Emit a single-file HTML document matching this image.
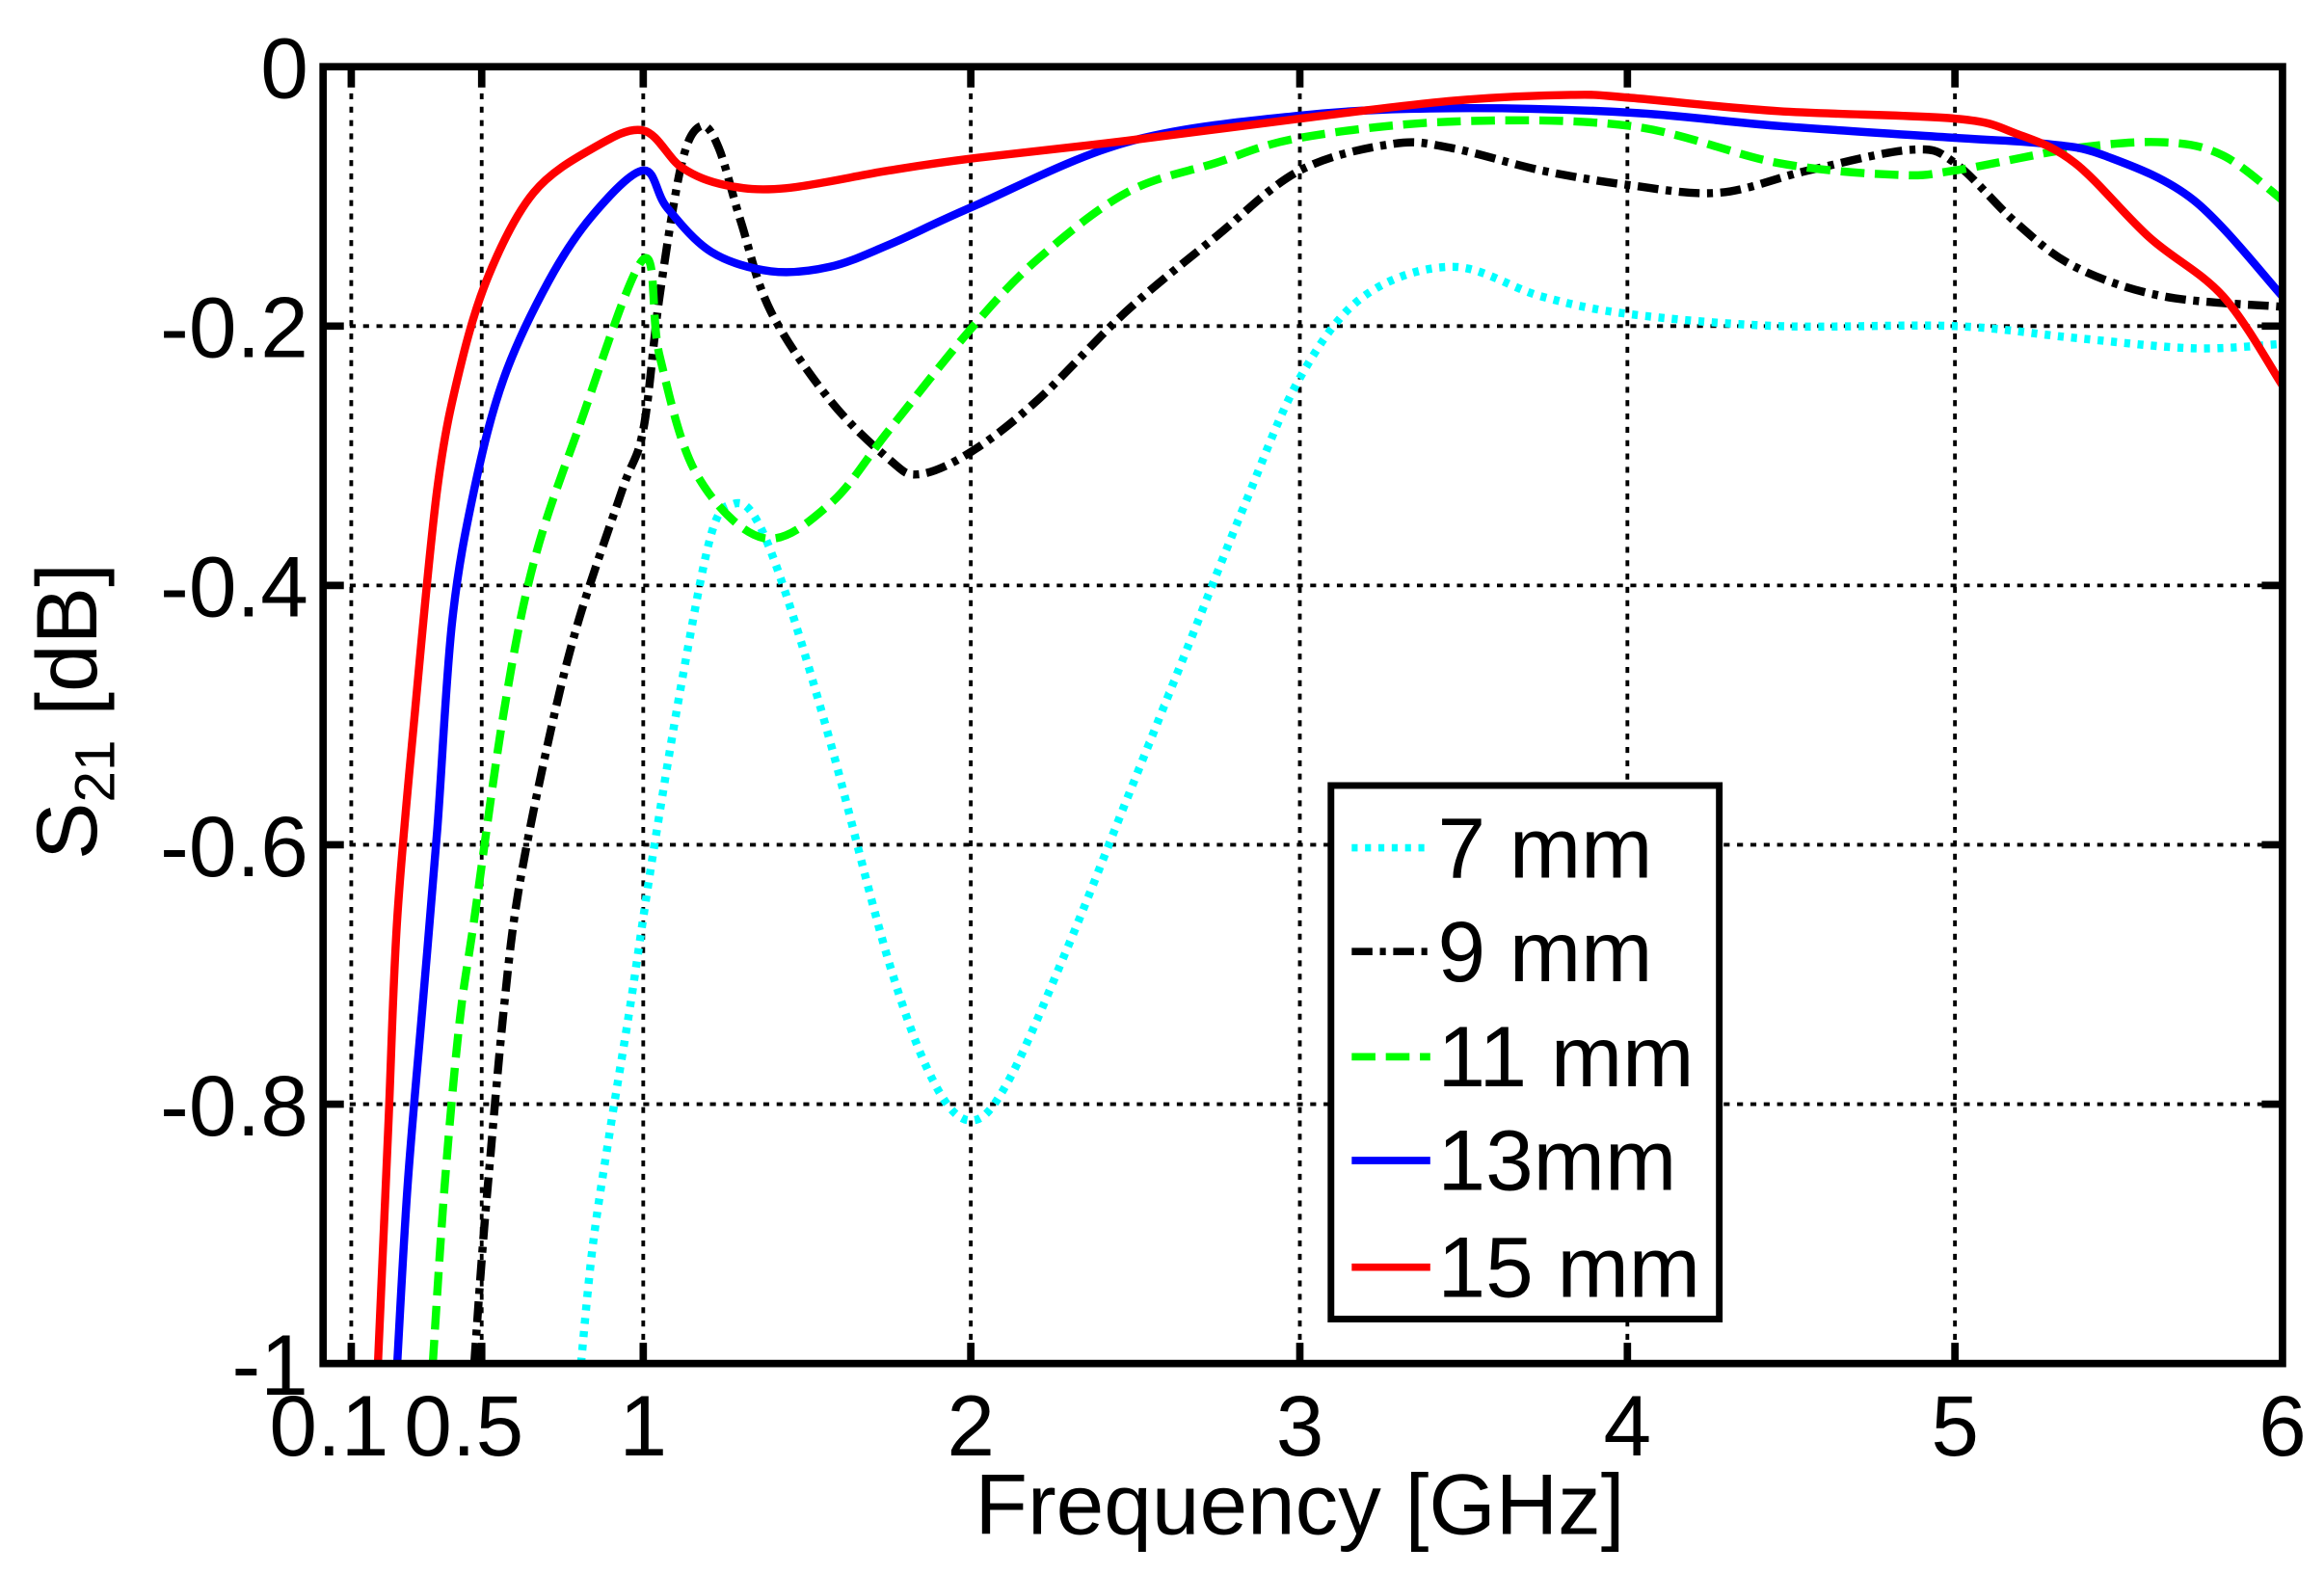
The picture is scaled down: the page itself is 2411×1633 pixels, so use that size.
<!DOCTYPE html>
<html><head><meta charset="utf-8"><style>html,body{margin:0;padding:0;background:#fff}svg{display:block}</style></head><body>
<svg id="s" width="2411" height="1633" viewBox="0 0 1568 1062" xmlns="http://www.w3.org/2000/svg" font-family="Liberation Sans, Arial, sans-serif">
<defs><clipPath id="c"><rect x="218" y="45" width="1322" height="875"/></clipPath></defs>
<g stroke="#000" stroke-width="2.5" stroke-dasharray="4,5" fill="none">
<line x1="237" y1="45" x2="237" y2="920"/><line x1="325" y1="45" x2="325" y2="920"/><line x1="434" y1="45" x2="434" y2="920"/><line x1="655" y1="45" x2="655" y2="920"/><line x1="877" y1="45" x2="877" y2="920"/><line x1="1098" y1="45" x2="1098" y2="920"/><line x1="1319" y1="45" x2="1319" y2="920"/>
<line x1="218" y1="220" x2="1540" y2="220"/><line x1="218" y1="395" x2="1540" y2="395"/><line x1="218" y1="570" x2="1540" y2="570"/><line x1="218" y1="745" x2="1540" y2="745"/>
</g>
<g stroke="#000" stroke-width="5" fill="none">
<path d="M237 45v14M325 45v14M434 45v14M655 45v14M877 45v14M1098 45v14M1319 45v14M237 920v-14M325 920v-14M434 920v-14M655 920v-14M877 920v-14M1098 920v-14M1319 920v-14"/>
<path d="M218 220h14M218 395h14M218 570h14M218 745h14M1540 220h-14M1540 395h-14M1540 570h-14M1540 745h-14"/>
</g>
<g clip-path="url(#c)" fill="none" stroke-linejoin="round" stroke-width="5.5">
<polyline class="sm" stroke="#00ffff" stroke-dasharray="4,5" points="392,920 400,840 412,760 425,680 440,580 460,460 480,360 495,340 510,350 530,400 560,500 600,650 630,730 655,756 680,730 720,640 760,540 800,440 840,340 877,255 920,200 980,180 1040,200 1100,212 1200,220 1319,220 1400,228 1480,235 1540,232"/>
<polyline class="sm" stroke="#000" stroke-dasharray="14,5,4,5" points="320,920 325,850 330,790 340,680 350,600 370,500 390,420 420,330 434,290 445,200 460,110 473,85 485,100 500,150 520,210 560,270 600,310 620,320 655,305 700,270 760,210 820,160 877,115 940,97 980,100 1040,115 1100,125 1160,130 1220,115 1290,101 1319,110 1360,150 1400,180 1460,200 1540,207"/>
<polyline class="sm" stroke="#00ff00" stroke-dasharray="16,7" points="292,920 300,800 310,690 320,620 340,480 360,380 390,290 434,175 445,240 470,320 515,363 560,340 600,290 655,222 700,175 760,130 820,110 877,93 980,82 1100,85 1200,110 1280,118 1319,115 1400,100 1460,96 1500,105 1540,135"/>
<polyline class="sm" stroke="#0000ff" points="268,920 275,800 285,680 295,560 305,420 320,330 340,255 370,190 400,145 434,115 450,140 480,170 520,183 560,180 600,165 655,140 760,96 877,78 980,73 1100,76 1200,85 1319,93 1380,97 1420,105 1480,135 1540,200"/>
<polyline class="sm" stroke="#ff0000" points="255,920 262,760 268,620 280,480 295,330 310,250 330,185 360,130 400,100 434,88 460,113 490,125 530,127 600,115 655,107 760,95 877,80 980,68 1060,64 1100,66 1200,75 1319,80 1360,90 1400,110 1450,160 1500,200 1540,260"/>
</g>
<rect x="218" y="45" width="1322" height="875" fill="none" stroke="#000" stroke-width="5"/>
<g font-size="58" fill="#000">
<g text-anchor="end"><text x="208" y="66">0</text><text x="208" y="241">-0.2</text><text x="208" y="416">-0.4</text><text x="208" y="591">-0.6</text><text x="208" y="766">-0.8</text><text x="208" y="941">-1</text></g>
<g text-anchor="middle"><text x="222" y="982">0.1</text><text x="313" y="982">0.5</text><text x="434" y="982">1</text><text x="655" y="982">2</text><text x="877" y="982">3</text><text x="1098" y="982">4</text><text x="1319" y="982">5</text><text x="1540" y="982">6</text></g>
<text x="877" y="1035" text-anchor="middle">Frequency [GHz]</text>
<text transform="translate(65,480) rotate(-90)" text-anchor="middle">S<tspan font-size="38" dy="12">21</tspan><tspan dy="-12"> [dB]</tspan></text>
</g>
<rect x="898" y="530" width="262" height="360" fill="#fff" stroke="#000" stroke-width="4.5"/>
<g stroke-width="5" fill="none">
<line x1="912" y1="572" x2="965" y2="572" stroke="#00ffff" stroke-dasharray="4,5"/>
<line x1="912" y1="642" x2="965" y2="642" stroke="#000" stroke-dasharray="14,5,4,5"/>
<line x1="912" y1="713" x2="965" y2="713" stroke="#00ff00" stroke-dasharray="16,7"/>
<line x1="912" y1="783" x2="965" y2="783" stroke="#0000ff"/>
<line x1="912" y1="855" x2="965" y2="855" stroke="#ff0000"/>
</g>
<g font-size="58" fill="#000"><text x="970" y="592">7 mm</text><text x="970" y="662">9 mm</text><text x="970" y="733">11 mm</text><text x="970" y="803">13mm</text><text x="970" y="875">15 mm</text></g>
</svg>
<script>
document.querySelectorAll('polyline.sm').forEach(function(pl){
var p=pl.getAttribute('points').trim().split(/\s+/).map(function(s){return s.split(',').map(Number);});
var d='M'+p[0][0]+' '+p[0][1];
for(var i=0;i<p.length-1;i++){var a=p[i>0?i-1:i],b=p[i],c=p[i+1],e=p[i+2<p.length?i+2:i+1];
d+=' C'+(b[0]+(c[0]-a[0])/6)+' '+(b[1]+(c[1]-a[1])/6)+' '+(c[0]-(e[0]-b[0])/6)+' '+(c[1]-(e[1]-b[1])/6)+' '+c[0]+' '+c[1];}
var path=document.createElementNS('http://www.w3.org/2000/svg','path');
['stroke','stroke-dasharray'].forEach(function(k){if(pl.getAttribute(k))path.setAttribute(k,pl.getAttribute(k));});
path.setAttribute('d',d);pl.parentNode.replaceChild(path,pl);});
</script>
</body></html>
